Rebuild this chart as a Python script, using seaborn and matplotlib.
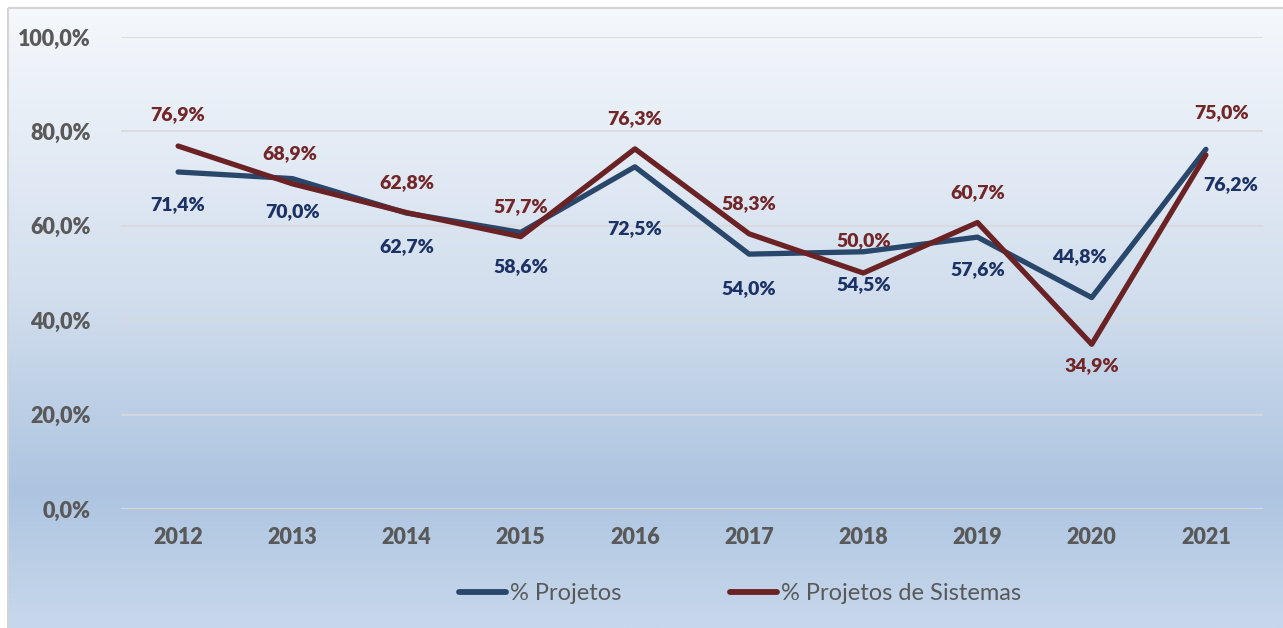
import numpy as np
import pandas as pd
import matplotlib.pyplot as plt
import seaborn as sns
from matplotlib.colors import LinearSegmentedColormap
from matplotlib.patches import Rectangle

years = ['2012', '2013', '2014', '2015', '2016', '2017', '2018', '2019', '2020', '2021']
projetos = [71.4, 70.0, 62.7, 58.6, 72.5, 54.0, 54.5, 57.6, 44.8, 76.2]
sistemas = [76.9, 68.9, 62.8, 57.7, 76.3, 58.3, 50.0, 60.7, 34.9, 75.0]
series_names = ['% Projetos', '% Projetos de Sistemas']

df = pd.DataFrame({
    'Ano': years * 2,
    'Valor': projetos + sistemas,
    'Serie': [series_names[0]] * len(years) + [series_names[1]] * len(years),
})

sns.set_style('white')
plt.rcParams['font.family'] = ['Lato', 'DejaVu Sans']

blue_line = '#29466b'
red_line = '#6b2224'
blue_txt = '#1c3264'
red_txt = '#722627'
gray_txt = '#595959'

fig = plt.figure(figsize=(12.83, 6.28), dpi=100)
fig.patch.set_facecolor('white')

# gradient background panel
bg = fig.add_axes([0, 0, 1, 1], zorder=-2)
bg.set_xlim(0, 1283)
bg.set_ylim(628, 0)
bg.axis('off')
cmap = LinearSegmentedColormap.from_list(
    'grad', [(0, '#f5f8fc'), (0.45, '#d3dfee'), (0.78, '#adc4e0'), (1, '#c8d8ec')])
grad = np.linspace(0, 1, 256).reshape(-1, 1)
bg.imshow(grad, cmap=cmap, aspect='auto', extent=[8, 1283, 628, 8])
bg.add_patch(Rectangle((7.5, 7.5), 1300, 640, fill=False, edgecolor='#d4d4d4', lw=1.5))

ax = fig.add_axes([121 / 1283, 1 - 509 / 628, (1263 - 121) / 1283, (509 - 37) / 628])
ax.set_facecolor('none')

sns.lineplot(data=df, x='Ano', y='Valor', hue='Serie', palette=[blue_line, red_line],
             linewidth=3.8, ax=ax, legend=False, solid_capstyle='round')

ax.set_xlim(-0.5, len(years) - 0.5)
ax.set_ylim(0, 100)
ax.set_yticks(range(0, 101, 20))
ax.set_yticklabels([f'{v},0%' for v in range(0, 101, 20)])
ax.grid(axis='y', color='#d9d9d9', lw=1.2)
ax.set_axisbelow(True)
for s in ax.spines.values():
    s.set_visible(False)
ax.tick_params(length=0, labelsize=15.5, labelcolor=gray_txt)
ax.tick_params(axis='y', pad=22)
ax.tick_params(axis='x', pad=13)
for lab in ax.get_xticklabels() + ax.get_yticklabels():
    lab.set_fontweight('heavy')
ax.set_xlabel('')
ax.set_ylabel('')

# data labels (offsets in pixels)
blue_off = [(0, -33), (0, -33), (0, -34), (0, -34), (0, -62), (0, -34), (0, -33), (0, -32), (-12, 41), (25, -35)]
red_off = [(0, 31), (-2, 30), (0, 30), (0, 30), (0, 30), (0, 30), (0, 32), (0, 30), (0, -21), (16, 42)]
for i, (v, o) in enumerate(zip(projetos, blue_off)):
    ax.annotate(f'{v:.1f}%'.replace('.', ','), (i, v), xytext=(o[0] * 0.72, o[1] * 0.72),
                textcoords='offset points', ha='center', va='center',
                fontsize=14, fontweight='heavy', color=blue_txt)
for i, (v, o) in enumerate(zip(sistemas, red_off)):
    ax.annotate(f'{v:.1f}%'.replace('.', ','), (i, v), xytext=(o[0] * 0.72, o[1] * 0.72),
                textcoords='offset points', ha='center', va='center',
                fontsize=14, fontweight='heavy', color=red_txt)

handles = [plt.Line2D([], [], color=c, lw=4.2, solid_capstyle='round') for c in (blue_line, red_line)]
leg = fig.legend(handles, series_names, loc='center', bbox_to_anchor=(740 / 1283, 1 - 594 / 628),
                 ncol=2, frameon=False, fontsize=17, handlelength=2.0, handletextpad=0.15,
                 columnspacing=4.6)
for t in leg.get_texts():
    t.set_color(gray_txt)

fig.savefig('out.png', dpi=100)
